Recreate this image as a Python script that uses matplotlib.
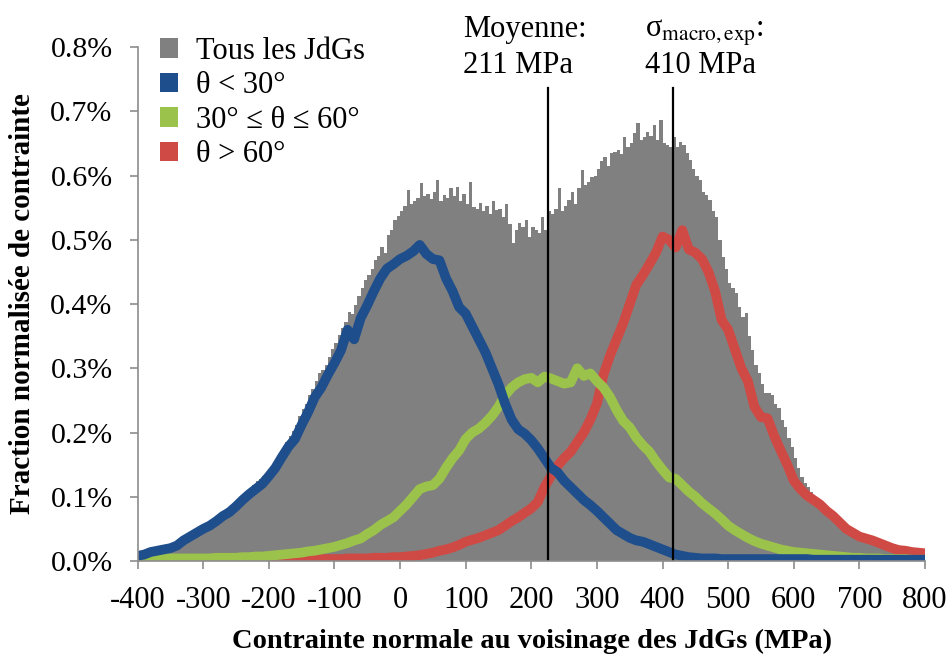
import numpy as np
import matplotlib
matplotlib.use("Agg")
import matplotlib.pyplot as plt
from matplotlib.patches import Patch

plt.rcParams['font.family'] = ['Liberation Serif', 'DejaVu Serif']
plt.rcParams['mathtext.fontset'] = 'stix'

# histogramme global (tous les JdGs), classes de 5 MPa, en %
hist_edges = np.arange(-400, 801, 5)
hist_all = [
    0.011, 0.013, 0.015, 0.017, 0.019, 0.020, 0.021, 0.022, 0.024, 0.025,
    0.026, 0.028, 0.031, 0.035, 0.038, 0.041, 0.044, 0.047, 0.050, 0.053,
    0.056, 0.059, 0.062, 0.066, 0.070, 0.073, 0.078, 0.082, 0.086, 0.090,
    0.094, 0.098, 0.104, 0.108, 0.114, 0.118, 0.124, 0.127, 0.132, 0.137,
    0.142, 0.150, 0.158, 0.166, 0.175, 0.186, 0.195, 0.203, 0.212, 0.226,
    0.236, 0.245, 0.258, 0.268, 0.280, 0.292, 0.298, 0.305, 0.318, 0.330,
    0.340, 0.352, 0.362, 0.372, 0.388, 0.384, 0.398, 0.412, 0.425, 0.437,
    0.445, 0.455, 0.468, 0.474, 0.489, 0.480, 0.508, 0.515, 0.530, 0.537,
    0.545, 0.552, 0.577, 0.556, 0.560, 0.565, 0.588, 0.568, 0.572, 0.563,
    0.575, 0.593, 0.560, 0.570, 0.565, 0.580, 0.568, 0.582, 0.560, 0.572,
    0.555, 0.590, 0.551, 0.548, 0.558, 0.545, 0.552, 0.540, 0.560, 0.546,
    0.548, 0.535, 0.555, 0.525, 0.495, 0.515, 0.526, 0.520, 0.530, 0.505,
    0.520, 0.515, 0.510, 0.535, 0.515, 0.545, 0.540, 0.548, 0.580, 0.545,
    0.552, 0.562, 0.575, 0.555, 0.580, 0.608, 0.585, 0.590, 0.598, 0.600,
    0.610, 0.622, 0.629, 0.615, 0.635, 0.637, 0.640, 0.634, 0.660, 0.645,
    0.650, 0.666, 0.682, 0.655, 0.660, 0.668, 0.662, 0.679, 0.655, 0.686,
    0.650, 0.648, 0.644, 0.660, 0.645, 0.652, 0.648, 0.635, 0.624, 0.610,
    0.600, 0.593, 0.575, 0.570, 0.562, 0.545, 0.535, 0.500, 0.473, 0.455,
    0.433, 0.425, 0.417, 0.395, 0.380, 0.386, 0.350, 0.328, 0.305, 0.293,
    0.275, 0.261, 0.262, 0.258, 0.245, 0.238, 0.220, 0.209, 0.192, 0.177,
    0.160, 0.145, 0.131, 0.122, 0.115, 0.107, 0.100, 0.094, 0.088, 0.083,
    0.080, 0.075, 0.068, 0.062, 0.057, 0.053, 0.050, 0.047, 0.045, 0.043,
    0.041, 0.039, 0.037, 0.035, 0.033, 0.031, 0.029, 0.026, 0.024, 0.022,
    0.021, 0.020, 0.018, 0.017, 0.016, 0.015, 0.014, 0.013, 0.012, 0.012,
]

# courbes par angle, tous les 10 MPa, en %
x_curve = np.arange(-400, 801, 10)
theta_low = [
    0.008, 0.010, 0.014, 0.016, 0.018, 0.020, 0.024, 0.032, 0.038, 0.044,
    0.050, 0.055, 0.062, 0.070, 0.076, 0.085, 0.095, 0.104, 0.112, 0.120,
    0.132, 0.145, 0.162, 0.178, 0.190, 0.212, 0.232, 0.255, 0.270, 0.290,
    0.308, 0.328, 0.360, 0.345, 0.378, 0.398, 0.420, 0.440, 0.455, 0.462,
    0.470, 0.475, 0.482, 0.492, 0.478, 0.470, 0.468, 0.440, 0.420, 0.395,
    0.385, 0.365, 0.345, 0.325, 0.300, 0.275, 0.245, 0.220, 0.205, 0.198,
    0.188, 0.175, 0.160, 0.145, 0.138, 0.125, 0.115, 0.105, 0.095, 0.087,
    0.078, 0.068, 0.058, 0.048, 0.042, 0.036, 0.032, 0.030, 0.026, 0.022,
    0.018, 0.014, 0.010, 0.008, 0.006, 0.005, 0.004, 0.004, 0.004, 0.003,
    0.003, 0.003, 0.003, 0.003, 0.003, 0.003, 0.003, 0.003, 0.003, 0.003,
    0.003, 0.003, 0.003, 0.002, 0.002, 0.002, 0.002, 0.002, 0.002, 0.002,
    0.002, 0.002, 0.002, 0.002, 0.002, 0.002, 0.002, 0.002, 0.002, 0.002,
    0.002,
]
theta_mid = [
    0.003, 0.003, 0.003, 0.003, 0.004, 0.004, 0.004, 0.004, 0.004, 0.004,
    0.004, 0.004, 0.005, 0.005, 0.005, 0.005, 0.006, 0.006, 0.007, 0.007,
    0.008, 0.009, 0.010, 0.011, 0.012, 0.013, 0.015, 0.016, 0.018, 0.020,
    0.022, 0.025, 0.028, 0.032, 0.035, 0.042, 0.048, 0.056, 0.062, 0.068,
    0.078, 0.088, 0.100, 0.112, 0.116, 0.118, 0.128, 0.145, 0.160, 0.172,
    0.190, 0.200, 0.206, 0.215, 0.226, 0.240, 0.258, 0.270, 0.278, 0.283,
    0.285, 0.278, 0.287, 0.284, 0.280, 0.276, 0.278, 0.300, 0.288, 0.292,
    0.280, 0.270, 0.255, 0.235, 0.218, 0.208, 0.192, 0.180, 0.170, 0.155,
    0.142, 0.130, 0.128, 0.118, 0.108, 0.100, 0.090, 0.082, 0.074, 0.065,
    0.055, 0.048, 0.042, 0.036, 0.031, 0.027, 0.024, 0.021, 0.018, 0.016,
    0.014, 0.013, 0.012, 0.011, 0.010, 0.009, 0.008, 0.007, 0.006, 0.005,
    0.005, 0.004, 0.004, 0.004, 0.003, 0.003, 0.003, 0.003, 0.002, 0.002,
    0.002,
]
theta_high = [
    0.000, 0.000, 0.000, 0.000, 0.000, 0.000, 0.000, 0.000, 0.000, 0.000,
    0.000, 0.000, 0.000, 0.000, 0.000, 0.000, 0.000, 0.000, 0.000, 0.000,
    0.001, 0.001, 0.001, 0.002, 0.002, 0.002, 0.002, 0.003, 0.003, 0.003,
    0.003, 0.003, 0.004, 0.004, 0.004, 0.004, 0.005, 0.005, 0.005, 0.006,
    0.006, 0.007, 0.008, 0.009, 0.011, 0.013, 0.016, 0.018, 0.021, 0.025,
    0.030, 0.033, 0.036, 0.040, 0.044, 0.048, 0.055, 0.062, 0.068, 0.075,
    0.082, 0.092, 0.115, 0.132, 0.148, 0.160, 0.170, 0.185, 0.200, 0.220,
    0.245, 0.290, 0.320, 0.345, 0.370, 0.400, 0.430, 0.445, 0.462, 0.480,
    0.505, 0.500, 0.488, 0.515, 0.485, 0.480, 0.470, 0.450, 0.420, 0.375,
    0.360, 0.330, 0.300, 0.280, 0.240, 0.224, 0.222, 0.195, 0.172, 0.150,
    0.125, 0.112, 0.102, 0.095, 0.088, 0.078, 0.070, 0.060, 0.050, 0.044,
    0.038, 0.035, 0.032, 0.028, 0.024, 0.020, 0.017, 0.016, 0.014, 0.013,
    0.012,
]

labels = ['Tous les JdGs', 'θ < 30°', '30° ≤ θ ≤ 60°', 'θ > 60°']
colors = ['#808080', '#1f4e8c', '#9bc24b', '#d04a45']

# lignes verticales : moyenne et contrainte macro
vline_x = [226, 416]
vline_text = [['Moyenne:', '211 MPa'], [r'σ$_{\mathrm{macro,exp}}$:', '410 MPa']]
vline_text_x = [96, 373]

xticks = range(-400, 801, 100)
yticks = np.arange(0, 0.81, 0.1)

fig = plt.figure(figsize=(9.52, 6.54), dpi=100)
ax = fig.add_axes([0.1445, 0.1422, 0.8272, 0.7859])

ax.stairs(hist_all, hist_edges, fill=True, color=colors[0], linewidth=0)
ax.plot(x_curve, theta_high, color=colors[3], lw=7, solid_capstyle='butt')
ax.plot(x_curve, theta_mid, color=colors[2], lw=7, solid_capstyle='butt')
ax.plot(x_curve, theta_low, color=colors[1], lw=7, solid_capstyle='butt')

for xv in vline_x:
    ax.plot([xv, xv], [0, 0.736], color='black', lw=1.6)

for xt, lines in zip(vline_text_x, vline_text):
    ax.text(xt, 0.8156, lines[0], fontsize=22, va='baseline', ha='left', clip_on=False)
    ax.text(xt, 0.7595, lines[1], fontsize=22, va='baseline', ha='left', clip_on=False)

ax.set_xlim(-400, 800)
ax.set_ylim(0, 0.8)
ax.set_xticks(xticks)
ax.set_xticklabels([str(t) for t in xticks])
ax.set_yticks(yticks)
ax.set_yticklabels(['%.1f%%' % t for t in yticks])

for s in ['top', 'right']:
    ax.spines[s].set_visible(False)
for s in ['left', 'bottom']:
    ax.spines[s].set_color('#8c8c8c')
    ax.spines[s].set_linewidth(1.2)
ax.tick_params(axis='x', colors='#8c8c8c', length=6, width=1.2, labelsize=22, labelcolor='black', pad=12)
ax.tick_params(axis='y', colors='#8c8c8c', length=6, width=1.2, labelsize=21.5, labelcolor='black', pad=12)

handles = [Patch(facecolor=c, edgecolor='none') for c in colors]
ax.legend(handles, labels, loc='upper left', bbox_to_anchor=(0.028, 1.02), frameon=False,
          fontsize=22, handlelength=0.6, handleheight=0.6, handletextpad=0.6,
          labelspacing=0.18, borderpad=0, borderaxespad=0)

fig.text(23 / 952, 1 - 304 / 654, 'Fraction normalisée de contrainte', rotation=90,
         ha='center', va='center', fontsize=21, fontweight='bold')
fig.text(532 / 952, 1 - 648 / 654, 'Contrainte normale au voisinage des JdGs (MPa)',
         ha='center', va='baseline', fontsize=20.5, fontweight='bold')

fig.savefig('out.png', dpi=100)
